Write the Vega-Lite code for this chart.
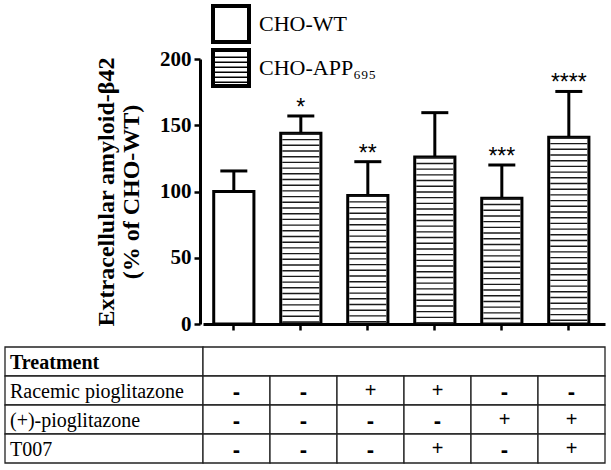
{
  "$schema": "https://vega.github.io/schema/vega-lite/v6.json",
  "padding": {"left": 4, "top": 4, "right": 6, "bottom": 6},
  "config": {
    "view": {"stroke": null},
    "font": "Liberation Serif",
    "axis": {"grid": false, "domainColor": "black", "tickColor": "black", "labelColor": "black", "titleColor": "black"}
  },
  "datasets": {
    "bars": [
      {"group": "1", "cell": "CHO-WT", "mean": 100, "upper": 115.5, "sig": ""},
      {"group": "2", "cell": "CHO-APP₆₉₅", "mean": 144, "upper": 157, "sig": "*"},
      {"group": "3", "cell": "CHO-APP₆₉₅", "mean": 97, "upper": 122.5, "sig": "**"},
      {"group": "4", "cell": "CHO-APP₆₉₅", "mean": 126, "upper": 159.5, "sig": ""},
      {"group": "5", "cell": "CHO-APP₆₉₅", "mean": 95, "upper": 120, "sig": "***"},
      {"group": "6", "cell": "CHO-APP₆₉₅", "mean": 141, "upper": 175.5, "sig": "****"}
    ],
    "rows": [
      {"row": "Treatment"},
      {"row": "Racemic pioglitazone"},
      {"row": "(+)-pioglitazone"},
      {"row": "T007"}
    ],
    "table": [
      {"row": "Racemic pioglitazone", "group": "1", "value": "-"},
      {"row": "Racemic pioglitazone", "group": "2", "value": "-"},
      {"row": "Racemic pioglitazone", "group": "3", "value": "+"},
      {"row": "Racemic pioglitazone", "group": "4", "value": "+"},
      {"row": "Racemic pioglitazone", "group": "5", "value": "-"},
      {"row": "Racemic pioglitazone", "group": "6", "value": "-"},
      {"row": "(+)-pioglitazone", "group": "1", "value": "-"},
      {"row": "(+)-pioglitazone", "group": "2", "value": "-"},
      {"row": "(+)-pioglitazone", "group": "3", "value": "-"},
      {"row": "(+)-pioglitazone", "group": "4", "value": "-"},
      {"row": "(+)-pioglitazone", "group": "5", "value": "+"},
      {"row": "(+)-pioglitazone", "group": "6", "value": "+"},
      {"row": "T007", "group": "1", "value": "-"},
      {"row": "T007", "group": "2", "value": "-"},
      {"row": "T007", "group": "3", "value": "-"},
      {"row": "T007", "group": "4", "value": "+"},
      {"row": "T007", "group": "5", "value": "-"},
      {"row": "T007", "group": "6", "value": "+"}
    ]
  },
  "columns": 2,
  "bounds": "flush",
  "spacing": {"row": 23, "column": 0},
  "concat": [
    {
      "width": 198, "height": 265,
      "data": {"values": []},
      "mark": "point",
      "encoding": {}
    },
    {
      "width": 402, "height": 265,
      "data": {"name": "bars"},
      "encoding": {
        "x": {"field": "group", "type": "nominal",
          "scale": {"paddingInner": 0.4, "paddingOuter": 0.2, "align": 0.4},
          "axis": {"labels": false, "title": null, "ticks": true, "tickSize": 6, "tickWidth": 2.5, "domainWidth": 3}}
      },
      "layer": [
        {
          "mark": {"type": "bar", "fill": "white", "stroke": "black", "strokeWidth": 3},
          "encoding": {
            "y": {"field": "mean", "type": "quantitative",
              "scale": {"domain": [0, 200]},
              "axis": {"values": [0, 50, 100, 150, 200], "offset": 3, "tickSize": 6, "tickWidth": 2.5, "domainWidth": 3,
                "labelFont": "Liberation Serif", "labelFontSize": 21, "labelFontWeight": "bold", "labelPadding": 3,
                "title": ["Extracellular amyloid-β42", "(% of CHO-WT)"],
                "titleFont": "Liberation Serif", "titleFontSize": 24, "titleFontWeight": "bold", "titleLineHeight": 25, "titlePadding": 16}}
          }
        },
        {
          "transform": [{"filter": "datum.cell !== 'CHO-WT'"}],
          "mark": {"type": "rule", "stroke": "#1a1a1a", "strokeWidth": 37, "strokeDash": [1.4, 4.3], "strokeCap": "butt"},
          "encoding": {
            "y": {"field": "mean", "type": "quantitative"},
            "y2": {"datum": 0}
          }
        },
        {
          "mark": {"type": "rule", "stroke": "black", "strokeWidth": 3},
          "encoding": {
            "y": {"field": "mean", "type": "quantitative"},
            "y2": {"field": "upper"}
          }
        },
        {
          "mark": {"type": "tick", "color": "black", "size": 27, "thickness": 3, "opacity": 1},
          "encoding": {
            "y": {"field": "upper", "type": "quantitative"}
          }
        },
        {
          "mark": {"type": "text", "font": "Liberation Sans", "fontSize": 23, "baseline": "alphabetic", "dy": -1, "color": "black"},
          "encoding": {
            "y": {"field": "upper", "type": "quantitative"},
            "text": {"field": "sig"}
          }
        },
        {
          "mark": {"type": "point", "filled": true, "color": "black", "opacity": 1, "size": 0, "strokeWidth": 0},
          "encoding": {
            "y": {"field": "mean", "type": "quantitative"},
            "shape": {"field": "cell", "type": "nominal",
              "scale": {"domain": ["CHO-WT", "CHO-APP₆₉₅"],
                "range": [
                  "M-1,-1H1V1H-1Z M-0.8,-0.8V0.8H0.8V-0.8Z",
                  "M-1,-1H1V1H-1Z M-0.8,-0.8V0.8H0.8V-0.8Z M-0.8,-0.58H0.8V-0.5H-0.8Z M-0.8,-0.33H0.8V-0.25H-0.8Z M-0.8,-0.08H0.8V0H-0.8Z M-0.8,0.17H0.8V0.25H-0.8Z M-0.8,0.42H0.8V0.5H-0.8Z M-0.8,0.67H0.8V0.75H-0.8Z"
                ]},
              "legend": {
                "title": null, "orient": "none", "legendX": 206, "legendY": -55, "padding": 0,
                "symbolSize": 1600, "symbolStrokeWidth": 0, "symbolFillColor": "black", "symbolOpacity": 1,
                "labelFont": "Liberation Serif", "labelFontSize": 22, "labelColor": "black", "labelOffset": 8, "rowPadding": 4
              }}
          }
        }
      ]
    },
    {
      "width": 198, "height": 116,
      "data": {"name": "rows"},
      "encoding": {
        "x": {"datum": "label", "type": "nominal", "scale": {"paddingInner": 0, "paddingOuter": 0}, "axis": null},
        "y": {"field": "row", "type": "nominal",
          "scale": {"domain": ["Treatment", "Racemic pioglitazone", "(+)-pioglitazone", "T007"], "paddingInner": 0, "paddingOuter": 0},
          "axis": null}
      },
      "layer": [
        {"mark": {"type": "rect", "fill": "white", "stroke": "#222", "strokeWidth": 1.3}},
        {
          "transform": [{"filter": "datum.row === 'Treatment'"}],
          "mark": {"type": "text", "align": "left", "dx": 5, "baseline": "middle", "dy": 1, "font": "Liberation Serif", "fontSize": 20, "fontWeight": "bold", "color": "black"},
          "encoding": {"x": {"datum": "label", "type": "nominal", "bandPosition": 0}, "text": {"field": "row"}}
        },
        {
          "transform": [{"filter": "datum.row !== 'Treatment'"}],
          "mark": {"type": "text", "align": "left", "dx": 5, "baseline": "middle", "dy": 1, "font": "Liberation Serif", "fontSize": 20, "color": "black"},
          "encoding": {"x": {"datum": "label", "type": "nominal", "bandPosition": 0}, "text": {"field": "row"}}
        }
      ]
    },
    {
      "width": 402, "height": 116,
      "layer": [
        {
          "data": {"name": "rows"},
          "transform": [{"filter": "datum.row === 'Treatment'"}],
          "mark": {"type": "rect", "fill": "white", "stroke": "#222", "strokeWidth": 1.3},
          "encoding": {
            "y": {"field": "row", "type": "nominal",
              "scale": {"domain": ["Treatment", "Racemic pioglitazone", "(+)-pioglitazone", "T007"], "paddingInner": 0, "paddingOuter": 0},
              "axis": null}
          }
        },
        {
          "data": {"name": "table"},
          "encoding": {
            "x": {"field": "group", "type": "nominal", "scale": {"paddingInner": 0, "paddingOuter": 0}, "axis": null},
            "y": {"field": "row", "type": "nominal", "axis": null}
          },
          "layer": [
            {"mark": {"type": "rect", "fill": "white", "stroke": "#222", "strokeWidth": 1.3}},
            {
              "transform": [{"filter": "datum.value === '+'"}],
              "mark": {"type": "text", "font": "Liberation Sans", "fontSize": 20, "baseline": "middle", "color": "black"},
              "encoding": {"text": {"field": "value"}}
            },
            {
              "transform": [{"filter": "datum.value === '-'"}],
              "mark": {"type": "text", "font": "Liberation Sans", "fontSize": 22, "fontWeight": "bold", "baseline": "middle", "dy": 1, "color": "black"},
              "encoding": {"text": {"field": "value"}}
            }
          ]
        }
      ]
    }
  ]
}
